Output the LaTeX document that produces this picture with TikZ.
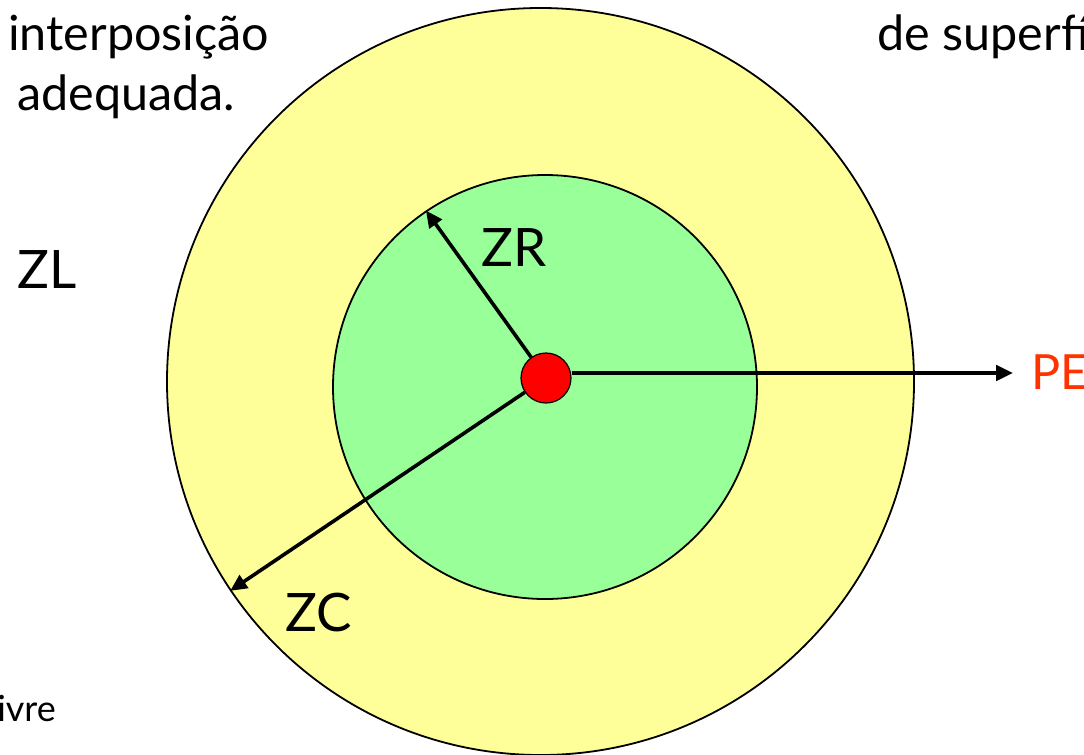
\documentclass[tikz,border=0pt]{standalone}
\usepackage{fontspec}
\setmainfont{Lato}
\usepackage{tikz}
\usetikzlibrary{arrows.meta}
\definecolor{cYellow}{HTML}{FFFF99}
\definecolor{cGreen}{HTML}{99FF99}
\definecolor{cRed}{HTML}{FF0000}
\definecolor{cPE}{HTML}{FF3300}
\tikzset{
  zone/.style={circle,draw=black,fill=#1,line width=0.45mm,inner sep=0pt},
  arr/.style={-{Triangle[length=4.2mm,width=3.8mm]},line width=0.9mm},
  lbl/.style={font=\fontsize{37.7}{45}\selectfont,anchor=base west,inner sep=0pt},
  txt/.style={font=\fontsize{34.5}{45}\selectfont,anchor=base west,inner sep=0pt},
  note/.style={font=\fontsize{25.6}{30}\selectfont,anchor=base west,inner sep=0pt},
}
\begin{document}
\begin{tikzpicture}[x=0.25mm,y=-0.25mm]
  \useasboundingbox (0,0) rectangle (1084,754);
  % zones round the well
  \node[zone=cYellow,minimum size=186.75mm] (outer) at (540.5,381.5) {};
  \node[zone=cGreen,minimum size=106mm] (inner) at (545,387) {};
  \node[zone=cRed,line width=0.3mm,minimum size=12.5mm] (dot) at (546,378) {};
  \coordinate (petip) at (1013,373);
  \draw[arr] (dot) -- (inner.124);
  \draw[arr] (dot) -- (outer.214.6);
  \draw[arr] (dot.east |- petip) -- (petip);
  % labels
  \node[lbl] (zr) at (481,266) {ZR};
  \node[lbl] (zc) at (285,631) {ZC};
  \node[lbl] (zl) at (17,288) {ZL};
  \node[txt,text=cPE] (pe) at (1031,389) {PE};
  \node[txt] (t1) at (8,50) {interposição};
  \node[txt] (t2) at (17,110) {adequada.};
  \node[txt] (t3) at (877,50) {de superfí};
  \node[note] (t4) at (-3,721) {ivre};
\end{tikzpicture}
\end{document}
